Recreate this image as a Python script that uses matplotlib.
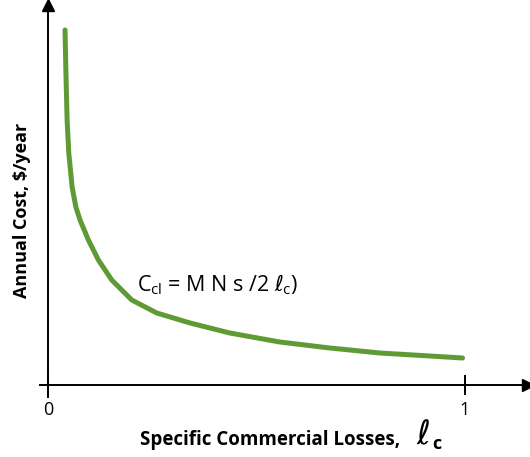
import matplotlib
matplotlib.use("Agg")
import matplotlib.pyplot as plt

# curve: specific commercial losses vs annual cost (arbitrary units)
losses = [0.041, 0.043, 0.046, 0.050, 0.058, 0.067, 0.077, 0.097, 0.121, 0.153,
          0.201, 0.261, 0.341, 0.436, 0.556, 0.676, 0.796, 0.916, 0.994]
cost = [355, 315, 265, 232, 198, 178, 165, 145, 125, 105,
        85, 72, 62, 52, 43, 37, 32, 29, 27]
xticks = [0, 1]
xtick_labels = ["0", "1"]

GREEN = "#5f9b34"
plt.rcParams["font.family"] = ["Open Sans", "DejaVu Sans"]

fig = plt.figure(figsize=(5.30, 4.57), dpi=100)
ax = fig.add_axes([40 / 530, 60 / 457, 488 / 530, 392 / 457])

ax.plot(losses, cost, color=GREEN, linewidth=3.6, solid_capstyle="round",
        solid_joinstyle="round")

ax.set_xlim(-0.019, 1.151)
ax.set_ylim(-12, 380)

for side in ["top", "right"]:
    ax.spines[side].set_visible(False)
ax.spines["left"].set_position(("data", 0))
ax.spines["bottom"].set_position(("data", 0))
for side in ["left", "bottom"]:
    ax.spines[side].set_linewidth(1.4)

# arrow heads
ax.plot(1, 0, ">k", markersize=9, transform=ax.get_yaxis_transform(), clip_on=False)
ax.plot(0, 1, "^k", markersize=9, transform=ax.get_xaxis_transform(), clip_on=False)

ax.set_xticks(xticks)
ax.set_xticklabels(xtick_labels, fontsize=13)
ax.tick_params(axis="x", direction="inout", length=15, width=1.4, pad=4)
ax.set_yticks([])

ax.text(0.213, 100, "C$_\\mathregular{cl}$ = M N s /2 $\\ell_\\mathregular{c}$)",
        fontsize=15.5, va="center", ha="left")

fig.text(0.509, 0.037, "Specific Commercial Losses,", fontsize=13.5, fontweight="bold",
         ha="center", va="center")
fig.text(0.785, 0.047, "$\\ell$", fontsize=24, ha="left", va="center")
fig.text(0.815, 0.028, "c", fontsize=13, fontweight="bold", ha="left", va="center")
fig.text(0.041, 0.54, "Annual Cost, \\$/year", fontsize=13, fontweight="bold",
         rotation=90, ha="center", va="center")

fig.savefig("out.png", dpi=100)
